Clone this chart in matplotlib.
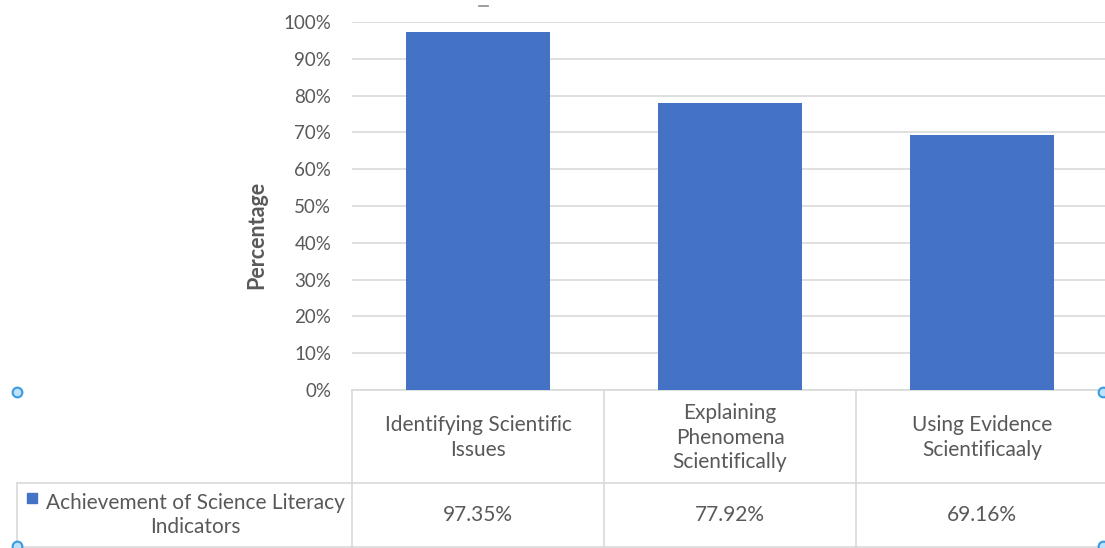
import matplotlib.pyplot as plt
from matplotlib.lines import Line2D
from matplotlib.transforms import blended_transform_factory
import numpy as np

categories = ['Identifying Scientific\nIssues',
              'Explaining\nPhenomena\nScientifically',
              'Using Evidence\nScientificaaly']
values = [97.35, 77.92, 69.16]
series_name = 'Achievement of Science Literacy\nIndicators'
yticks = [0, 10, 20, 30, 40, 50, 60, 70, 80, 90, 100]

plt.rcParams['font.family'] = ['Lato', 'DejaVu Sans']
txt = '#595959'
grid = '#d9d9d9'
blue = '#4472c4'

W, H = 1105, 548
fig = plt.figure(figsize=(W / 100, H / 100), dpi=100)

def fy(py):
    return 1 - py / H

ax = fig.add_axes([352 / W, fy(390), (1108 - 352) / W, fy(22) - fy(390)])
x = np.arange(len(categories))
ax.bar(x, values, width=0.571, color=blue, zorder=3)
ax.set_xlim(-0.5, len(categories) - 0.5)
ax.set_ylim(0, 100)
ax.set_yticks(yticks)
ax.set_yticklabels([f'{t}%' for t in yticks], color=txt, fontsize=13.5)
ax.tick_params(axis='y', length=0, pad=15)
ax.set_xticks([])
ax.yaxis.grid(True, color=grid, linewidth=1.2, zorder=0)
for s in ['left', 'right', 'top']:
    ax.spines[s].set_visible(False)
ax.spines['bottom'].set_color(grid)
ax.spines['bottom'].set_linewidth(1.2)
ax.set_ylabel('Percentage', color=txt, fontsize=15.5, fontweight='bold')
ax.yaxis.set_label_coords((267 - 352) / 756, (390 - 235) / 368)

# bit of the title peeking in at the top edge
fig.add_artist(Line2D([479 / W, 488 / W], [fy(6), fy(6)],
                      transform=fig.transFigure, color='#8c8c8c', lw=1.2))

# data table under the axis
tr = blended_transform_factory(ax.transData, fig.transFigure)
row1, row2, bottom = 390, 483, 547
for b in np.arange(len(categories) + 1) - 0.5:
    fig.add_artist(Line2D([b, b], [fy(row1), fy(bottom)], transform=tr,
                          color=grid, lw=1.2))
for py in (row2, bottom):
    fig.add_artist(Line2D([17 / W, 1.0], [fy(py), fy(py)],
                          transform=fig.transFigure, color=grid, lw=1.2))
fig.add_artist(Line2D([17 / W, 17 / W], [fy(row2), fy(bottom)],
                      transform=fig.transFigure, color=grid, lw=1.2))

for i, (c, v) in enumerate(zip(categories, values)):
    fig.text(i, fy((row1 + row2) / 2 + 1), c, transform=tr, ha='center', va='center',
             color=txt, fontsize=15, linespacing=1.3)
    fig.text(i, fy((row2 + bottom) / 2), f'{v:.2f}%', transform=tr,
             ha='center', va='center', color=txt, fontsize=15)

# series key inside the table's first cell
fig.text(195 / W, fy((row2 + bottom) / 2), series_name, ha='center', va='center',
         color=txt, fontsize=15, linespacing=1.3)
fig.patches.append(plt.Rectangle((27 / W, fy(503)), 10 / W, 10 / H,
                                 transform=fig.transFigure, color=blue))

# selection handles of the chart frame
for hx, hy in [(17, 392), (1103, 392), (17, 546), (1103, 546)]:
    fig.add_artist(Line2D([hx / W], [fy(hy)], transform=fig.transFigure,
                          marker='o', ms=7, mfc='#bde0fb', mec='#3a9be0', mew=1.5))

fig.savefig('out.png', dpi=100)
